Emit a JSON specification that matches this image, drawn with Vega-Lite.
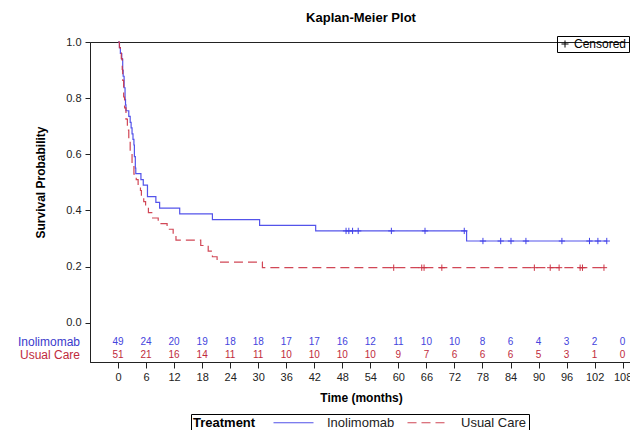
{
  "$schema": "https://vega.github.io/schema/vega-lite/v6.json",
  "autosize": {"type": "none"},
  "width": 542,
  "height": 320,
  "padding": {"left": 90, "top": 42, "right": 0, "bottom": 68},
  "background": "white",
  "config": {
    "font": "Liberation Sans",
    "view": {"stroke": "#222", "strokeWidth": 1},
    "axis": {"grid": false, "labelColor": "#222", "tickColor": "#222", "domainColor": "#222", "labelFontSize": 11, "titleFontSize": 12, "titleFontWeight": "bold", "titleColor": "black"},
    "axisX": {"labelOverlap": false, "labelFlush": false, "tickSize": 6, "labelPadding": 3, "titlePadding": 10},
    "axisY": {"tickSize": 5, "labelPadding": 4}
  },
  "title": {"text": "Kaplan-Meier Plot", "fontSize": 13, "fontWeight": "bold", "color": "black", "offset": 11, "font": "Liberation Sans"},
  "datasets": {
    "curve": [
      {"g": "Inolimomab", "t": 0, "s": 1},
      {"g": "Inolimomab", "t": 0.3, "s": 0.980},
      {"g": "Inolimomab", "t": 0.5, "s": 0.959},
      {"g": "Inolimomab", "t": 0.8, "s": 0.939},
      {"g": "Inolimomab", "t": 1.0, "s": 0.898},
      {"g": "Inolimomab", "t": 1.1, "s": 0.878},
      {"g": "Inolimomab", "t": 1.3, "s": 0.837},
      {"g": "Inolimomab", "t": 1.5, "s": 0.796},
      {"g": "Inolimomab", "t": 1.6, "s": 0.776},
      {"g": "Inolimomab", "t": 1.7, "s": 0.755},
      {"g": "Inolimomab", "t": 2.3, "s": 0.735},
      {"g": "Inolimomab", "t": 2.6, "s": 0.714},
      {"g": "Inolimomab", "t": 2.8, "s": 0.694},
      {"g": "Inolimomab", "t": 3.0, "s": 0.673},
      {"g": "Inolimomab", "t": 3.2, "s": 0.653},
      {"g": "Inolimomab", "t": 3.4, "s": 0.633},
      {"g": "Inolimomab", "t": 3.5, "s": 0.592},
      {"g": "Inolimomab", "t": 3.7, "s": 0.551},
      {"g": "Inolimomab", "t": 3.8, "s": 0.531},
      {"g": "Inolimomab", "t": 4.9, "s": 0.510},
      {"g": "Inolimomab", "t": 5.4, "s": 0.490},
      {"g": "Inolimomab", "t": 6.3, "s": 0.449},
      {"g": "Inolimomab", "t": 8.1, "s": 0.429},
      {"g": "Inolimomab", "t": 8.9, "s": 0.408},
      {"g": "Inolimomab", "t": 13.2, "s": 0.388},
      {"g": "Inolimomab", "t": 20.2, "s": 0.367},
      {"g": "Inolimomab", "t": 30.3, "s": 0.347},
      {"g": "Inolimomab", "t": 42.3, "s": 0.327},
      {"g": "Inolimomab", "t": 74.6, "s": 0.291},
      {"g": "Inolimomab", "t": 104.6, "s": 0.291},
      {"g": "Usual Care", "t": 0, "s": 1},
      {"g": "Usual Care", "t": 0.3, "s": 0.980},
      {"g": "Usual Care", "t": 0.5, "s": 0.961},
      {"g": "Usual Care", "t": 0.7, "s": 0.941},
      {"g": "Usual Care", "t": 0.9, "s": 0.902},
      {"g": "Usual Care", "t": 1.0, "s": 0.863},
      {"g": "Usual Care", "t": 1.2, "s": 0.804},
      {"g": "Usual Care", "t": 1.4, "s": 0.765},
      {"g": "Usual Care", "t": 1.7, "s": 0.725},
      {"g": "Usual Care", "t": 2.0, "s": 0.686},
      {"g": "Usual Care", "t": 2.3, "s": 0.647},
      {"g": "Usual Care", "t": 2.6, "s": 0.608},
      {"g": "Usual Care", "t": 3.0, "s": 0.569},
      {"g": "Usual Care", "t": 3.4, "s": 0.529},
      {"g": "Usual Care", "t": 3.9, "s": 0.510},
      {"g": "Usual Care", "t": 4.3, "s": 0.490},
      {"g": "Usual Care", "t": 4.8, "s": 0.471},
      {"g": "Usual Care", "t": 5.0, "s": 0.451},
      {"g": "Usual Care", "t": 5.5, "s": 0.431},
      {"g": "Usual Care", "t": 5.9, "s": 0.412},
      {"g": "Usual Care", "t": 6.5, "s": 0.392},
      {"g": "Usual Care", "t": 7.4, "s": 0.373},
      {"g": "Usual Care", "t": 8.6, "s": 0.353},
      {"g": "Usual Care", "t": 10.5, "s": 0.333},
      {"g": "Usual Care", "t": 11.8, "s": 0.314},
      {"g": "Usual Care", "t": 12.4, "s": 0.294},
      {"g": "Usual Care", "t": 17.7, "s": 0.275},
      {"g": "Usual Care", "t": 19.3, "s": 0.255},
      {"g": "Usual Care", "t": 20.2, "s": 0.235},
      {"g": "Usual Care", "t": 21.2, "s": 0.216},
      {"g": "Usual Care", "t": 30.9, "s": 0.196},
      {"g": "Usual Care", "t": 104.0, "s": 0.196}
    ],
    "censor": [
      {"g": "Inolimomab", "t": 48.8, "s": 0.327, "status": "Censored"},
      {"g": "Inolimomab", "t": 49.4, "s": 0.327, "status": "Censored"},
      {"g": "Inolimomab", "t": 50.2, "s": 0.327, "status": "Censored"},
      {"g": "Inolimomab", "t": 51.4, "s": 0.327, "status": "Censored"},
      {"g": "Inolimomab", "t": 58.5, "s": 0.327, "status": "Censored"},
      {"g": "Inolimomab", "t": 65.7, "s": 0.327, "status": "Censored"},
      {"g": "Inolimomab", "t": 74.1, "s": 0.327, "status": "Censored"},
      {"g": "Inolimomab", "t": 78.1, "s": 0.291, "status": "Censored"},
      {"g": "Inolimomab", "t": 81.9, "s": 0.291, "status": "Censored"},
      {"g": "Inolimomab", "t": 84.1, "s": 0.291, "status": "Censored"},
      {"g": "Inolimomab", "t": 87.3, "s": 0.291, "status": "Censored"},
      {"g": "Inolimomab", "t": 95.0, "s": 0.291, "status": "Censored"},
      {"g": "Inolimomab", "t": 100.9, "s": 0.291, "status": "Censored"},
      {"g": "Inolimomab", "t": 102.7, "s": 0.291, "status": "Censored"},
      {"g": "Inolimomab", "t": 104.6, "s": 0.291, "status": "Censored"},
      {"g": "Usual Care", "t": 59.0, "s": 0.196, "status": "Censored"},
      {"g": "Usual Care", "t": 65.0, "s": 0.196, "status": "Censored"},
      {"g": "Usual Care", "t": 65.5, "s": 0.196, "status": "Censored"},
      {"g": "Usual Care", "t": 69.3, "s": 0.196, "status": "Censored"},
      {"g": "Usual Care", "t": 89.1, "s": 0.196, "status": "Censored"},
      {"g": "Usual Care", "t": 92.5, "s": 0.196, "status": "Censored"},
      {"g": "Usual Care", "t": 94.4, "s": 0.196, "status": "Censored"},
      {"g": "Usual Care", "t": 98.9, "s": 0.196, "status": "Censored"},
      {"g": "Usual Care", "t": 99.4, "s": 0.196, "status": "Censored"},
      {"g": "Usual Care", "t": 104.0, "s": 0.196, "status": "Censored"}
    ],
    "risk": [
      {"g": "Inolimomab", "t": 0, "n": 49}, {"g": "Inolimomab", "t": 6, "n": 24},
      {"g": "Inolimomab", "t": 12, "n": 20}, {"g": "Inolimomab", "t": 18, "n": 19},
      {"g": "Inolimomab", "t": 24, "n": 18}, {"g": "Inolimomab", "t": 30, "n": 18},
      {"g": "Inolimomab", "t": 36, "n": 17}, {"g": "Inolimomab", "t": 42, "n": 17},
      {"g": "Inolimomab", "t": 48, "n": 16}, {"g": "Inolimomab", "t": 54, "n": 12},
      {"g": "Inolimomab", "t": 60, "n": 11}, {"g": "Inolimomab", "t": 66, "n": 10},
      {"g": "Inolimomab", "t": 72, "n": 10}, {"g": "Inolimomab", "t": 78, "n": 8},
      {"g": "Inolimomab", "t": 84, "n": 6}, {"g": "Inolimomab", "t": 90, "n": 4},
      {"g": "Inolimomab", "t": 96, "n": 3}, {"g": "Inolimomab", "t": 102, "n": 2},
      {"g": "Inolimomab", "t": 108, "n": 0},
      {"g": "Usual Care", "t": 0, "n": 51}, {"g": "Usual Care", "t": 6, "n": 21},
      {"g": "Usual Care", "t": 12, "n": 16}, {"g": "Usual Care", "t": 18, "n": 14},
      {"g": "Usual Care", "t": 24, "n": 11}, {"g": "Usual Care", "t": 30, "n": 11},
      {"g": "Usual Care", "t": 36, "n": 10}, {"g": "Usual Care", "t": 42, "n": 10},
      {"g": "Usual Care", "t": 48, "n": 10}, {"g": "Usual Care", "t": 54, "n": 10},
      {"g": "Usual Care", "t": 60, "n": 9}, {"g": "Usual Care", "t": 66, "n": 7},
      {"g": "Usual Care", "t": 72, "n": 6}, {"g": "Usual Care", "t": 78, "n": 6},
      {"g": "Usual Care", "t": 84, "n": 6}, {"g": "Usual Care", "t": 90, "n": 5},
      {"g": "Usual Care", "t": 96, "n": 3}, {"g": "Usual Care", "t": 102, "n": 1},
      {"g": "Usual Care", "t": 108, "n": 0}
    ]
  },
  "layer": [
    {
      "data": {"name": "curve"},
      "mark": {"type": "line", "interpolate": "step-after", "strokeWidth": 1.2, "opacity": 0.9},
      "encoding": {
        "x": {
          "field": "t", "type": "quantitative",
          "scale": {"domain": [-6, 110], "nice": false, "zero": false},
          "axis": {"values": [0, 6, 12, 18, 24, 30, 36, 42, 48, 54, 60, 66, 72, 78, 84, 90, 96, 102, 108], "title": "Time (months)", "labelOverlap": false}
        },
        "y": {
          "field": "s", "type": "quantitative",
          "scale": {"domain": [-0.14, 1], "nice": false, "zero": false},
          "axis": {
            "values": [0, 0.2, 0.4, 0.6, 0.8, 1], "format": ".1f",
            "title": "Survival Probability",
            "titleX": -43, "titleY": 140, "titleAlign": "center", "titleBaseline": "bottom", "titleAngle": -90
          }
        },
        "color": {
          "field": "g", "type": "nominal",
          "scale": {"domain": ["Inolimomab", "Usual Care"], "range": ["#4040e8", "#cc3344"]},
          "legend": {
            "orient": "none", "legendX": 101, "legendY": 372, "direction": "horizontal",
            "title": "Treatment", "titleOrient": "left", "titleFontSize": 13, "titleFontWeight": "bold",
            "titleColor": "black", "labelFontSize": 13, "labelColor": "#222",
            "strokeColor": "black", "padding": 2, "symbolType": "M-4,0L4,0", "symbolSize": 100,
            "symbolStrokeWidth": 1.2, "labelOffset": 27, "columnPadding": 10, "titlePadding": 31
          }
        },
        "strokeDash": {
          "field": "g", "type": "nominal",
          "scale": {"domain": ["Inolimomab", "Usual Care"], "range": [[1, 0], [9, 5]]},
          "legend": {
            "orient": "none", "legendX": 101, "legendY": 372, "direction": "horizontal",
            "title": "Treatment", "titleOrient": "left", "titleFontSize": 13, "titleFontWeight": "bold",
            "titleColor": "black", "labelFontSize": 13, "labelColor": "#222",
            "strokeColor": "black", "padding": 2, "symbolType": "M-4,0L4,0", "symbolSize": 100,
            "symbolStrokeWidth": 1.2, "labelOffset": 27, "columnPadding": 10, "titlePadding": 31
          }
        }
      }
    },
    {
      "data": {"name": "censor"},
      "transform": [{"filter": "datum.g === 'Inolimomab'"}],
      "mark": {"type": "point", "filled": false, "strokeWidth": 1, "size": 40, "color": "#4040e8", "opacity": 1},
      "encoding": {
        "x": {"field": "t", "type": "quantitative", "axis": {"values": [0, 6, 12, 18, 24, 30, 36, 42, 48, 54, 60, 66, 72, 78, 84, 90, 96, 102, 108], "title": "Time (months)", "labelOverlap": false}},
        "y": {"field": "s", "type": "quantitative"},
        "shape": {
          "field": "status", "type": "nominal",
          "scale": {"domain": ["Censored"], "range": ["M0,-1L0,1M-1,0L1,0"]},
          "legend": {
            "orient": "none", "legendX": 467, "legendY": -6, "title": null,
            "strokeColor": "black", "padding": 2, "labelFontSize": 12, "labelColor": "black",
            "symbolStrokeColor": "black", "symbolSize": 50, "symbolStrokeWidth": 1, "labelOffset": 3
          }
        }
      }
    },
    {
      "data": {"name": "censor"},
      "transform": [{"filter": "datum.g === 'Usual Care'"}],
      "mark": {"type": "point", "filled": false, "strokeWidth": 1, "size": 40, "color": "#cc3344", "opacity": 1},
      "encoding": {
        "x": {"field": "t", "type": "quantitative", "axis": {"values": [0, 6, 12, 18, 24, 30, 36, 42, 48, 54, 60, 66, 72, 78, 84, 90, 96, 102, 108], "title": "Time (months)", "labelOverlap": false}},
        "y": {"field": "s", "type": "quantitative"},
        "shape": {"field": "status", "type": "nominal"}
      }
    },
    {
      "data": {"name": "risk"},
      "transform": [{"filter": "datum.g === 'Inolimomab'"}],
      "mark": {"type": "text", "fontSize": 10, "color": "#4444dd", "baseline": "middle", "align": "center"},
      "encoding": {
        "x": {"field": "t", "type": "quantitative", "axis": {"values": [0, 6, 12, 18, 24, 30, 36, 42, 48, 54, 60, 66, 72, 78, 84, 90, 96, 102, 108], "title": "Time (months)", "labelOverlap": false}},
        "y": {"datum": -0.068, "type": "quantitative"},
        "text": {"field": "n", "type": "quantitative"}
      }
    },
    {
      "data": {"name": "risk"},
      "transform": [{"filter": "datum.g === 'Usual Care'"}],
      "mark": {"type": "text", "fontSize": 10, "color": "#c02a3c", "baseline": "middle", "align": "center"},
      "encoding": {
        "x": {"field": "t", "type": "quantitative", "axis": {"values": [0, 6, 12, 18, 24, 30, 36, 42, 48, 54, 60, 66, 72, 78, 84, 90, 96, 102, 108], "title": "Time (months)", "labelOverlap": false}},
        "y": {"datum": -0.114, "type": "quantitative"},
        "text": {"field": "n", "type": "quantitative"}
      }
    },
    {
      "data": {"name": "risk"},
      "transform": [{"filter": "datum.g === 'Inolimomab' && datum.t === 0"}],
      "mark": {"type": "text", "fontSize": 12, "color": "#3a3acc", "baseline": "middle", "align": "right", "dx": -10},
      "encoding": {
        "x": {"datum": -6, "type": "quantitative", "axis": {"values": [0, 6, 12, 18, 24, 30, 36, 42, 48, 54, 60, 66, 72, 78, 84, 90, 96, 102, 108], "title": "Time (months)", "labelOverlap": false}},
        "y": {"datum": -0.068, "type": "quantitative"},
        "text": {"field": "g", "type": "nominal"}
      }
    },
    {
      "data": {"name": "risk"},
      "transform": [{"filter": "datum.g === 'Usual Care' && datum.t === 0"}],
      "mark": {"type": "text", "fontSize": 12, "color": "#c02a3c", "baseline": "middle", "align": "right", "dx": -10},
      "encoding": {
        "x": {"datum": -6, "type": "quantitative", "axis": {"values": [0, 6, 12, 18, 24, 30, 36, 42, 48, 54, 60, 66, 72, 78, 84, 90, 96, 102, 108], "title": "Time (months)", "labelOverlap": false}},
        "y": {"datum": -0.114, "type": "quantitative"},
        "text": {"field": "g", "type": "nominal"}
      }
    }
  ]
}
